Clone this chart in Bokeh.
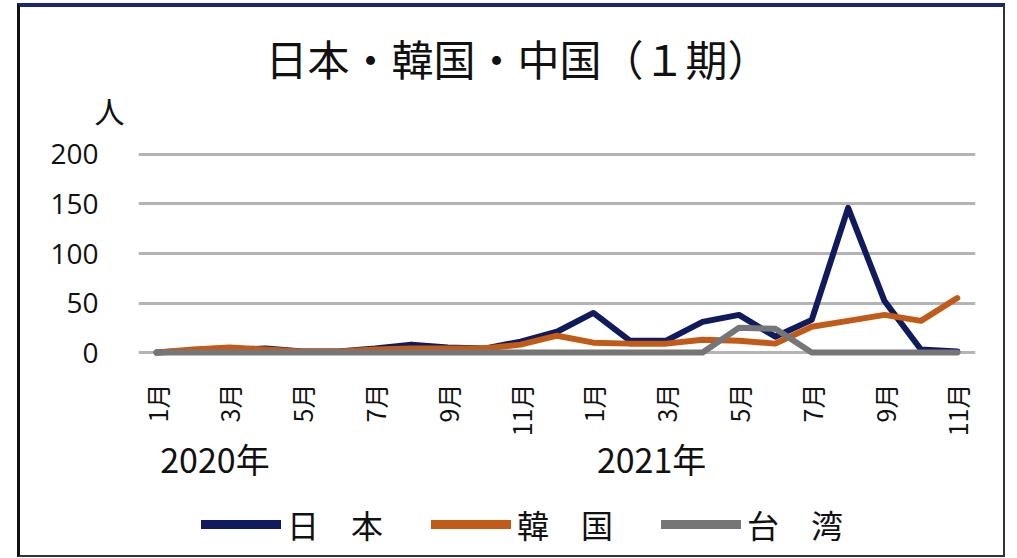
import math
from bokeh.plotting import figure
from bokeh.layouts import column
from bokeh.models import FixedTicker, Legend, LegendItem, LinearAxis, Range1d, Title
from bokeh.embed import file_html
from bokeh.resources import INLINE

# Monthly arrivals, Jan 2020 – Nov 2021
months = ["1月", "2月", "3月", "4月", "5月", "6月", "7月", "8月", "9月", "10月", "11月", "12月",
          "1月", "2月", "3月", "4月", "5月", "6月", "7月", "8月", "9月", "10月", "11月"]
years = ["2020年", "2021年"]
year_start_index = [0, 12]
japan = [0, 2, 3, 4, 1, 1, 4, 8, 5, 4, 11, 21, 40, 12, 12, 31, 38, 16, 33, 146, 52, 3, 1]
korea = [0, 3, 5, 3, 1, 1, 3, 4, 4, 4, 8, 17, 10, 9, 9, 13, 12, 9, 26, 32, 38, 32, 55]
taiwan = [0, 0, 0, 0, 0, 0, 0, 0, 0, 0, 0, 0, 0, 0, 0, 0, 25, 24, 0, 0, 0, 0, 0]
series_names = ["日　本", "韓　国", "台　湾"]
series_colors = ["#0f1b5c", "#c25a18", "#767676"]
title_text = "日本・韓国・中国（１期）"
unit_text = "人"
y_ticks = [0, 50, 100, 150, 200]

CJK = "Noto Sans CJK JP"
TEXT = "#111111"
W = 983
x = list(range(len(months)))

p = figure(width=W, height=490,
           x_range=Range1d(-0.5, len(months) - 0.5), y_range=Range1d(-4, 204),
           output_backend="svg", toolbar_location=None,
           min_border_left=118, min_border_right=28,
           min_border_top=143, min_border_bottom=141)
p.outline_line_color = None
p.background_fill_color = "white"
p.border_fill_color = "white"

# chart title on top, unit label just above the plot area
p.title.text = title_text
p.title.align = "left"
p.title.offset = 127
p.title.standoff = -42
p.title.text_font = CJK
p.title.text_font_size = "42px"
p.title.text_font_style = "normal"
p.title.text_color = TEXT
p.add_layout(Title(text=unit_text, align="left", offset=-44, standoff=38,
                   text_font=CJK, text_font_size="30px", text_font_style="normal",
                   text_color=TEXT), "above")

# month axis
p.xaxis.ticker = FixedTicker(ticks=x[::2])
p.xaxis.major_label_overrides = {i: months[i] for i in x[::2]}
p.xaxis.major_label_orientation = math.pi / 2
p.xaxis.major_label_text_font = CJK
p.xaxis.major_label_text_font_size = "25px"
p.xaxis.major_label_text_color = TEXT
p.xaxis.major_label_standoff = 27

# year axis under the months
year_ticks = [i + 1.6 for i in year_start_index]
year_axis = LinearAxis(ticker=FixedTicker(ticks=year_ticks),
                       major_label_overrides={t: y for t, y in zip(year_ticks, years)},
                       major_label_text_font=CJK, major_label_text_font_size="34px",
                       major_label_text_color=TEXT, major_label_standoff=-6)
p.add_layout(year_axis, "below")

p.yaxis.ticker = FixedTicker(ticks=y_ticks)
p.yaxis.major_label_text_font = "Open Sans"
p.yaxis.major_label_text_font_size = "28px"
p.yaxis.major_label_text_color = TEXT
p.yaxis.major_label_standoff = 40
for ax in (p.xaxis[0], year_axis, p.yaxis[0]):
    ax.axis_line_color = None
    ax.major_tick_line_color = None
    ax.minor_tick_line_color = None
    ax.major_tick_out = 0
    ax.major_tick_in = 0
    ax.minor_tick_out = 0
    ax.minor_tick_in = 0

p.xgrid.grid_line_color = None
p.ygrid.grid_line_color = "#b4b4b4"
p.ygrid.grid_line_width = 3

for vals, color in zip([japan, korea, taiwan], series_colors):
    p.line(x, vals, line_color=color, line_width=6, line_join="round", line_cap="round")

# legend strip under the chart; its key lines lie outside the visible range
q = figure(width=W, height=58, x_range=Range1d(0, W), y_range=Range1d(0, 58),
           x_axis_type=None, y_axis_type=None, output_backend="svg", toolbar_location=None,
           min_border=0)
q.outline_line_color = None
q.grid.visible = False
q.background_fill_color = "white"
q.border_fill_color = "white"
keys = [q.line([-20, -10], [-20, -20], line_color=c, line_width=9, line_cap="round")
        for c in series_colors]
legend = Legend(items=[LegendItem(label=n, renderers=[r]) for n, r in zip(series_names, keys)],
                orientation="horizontal", location=(63, 8),
                label_text_font=CJK, label_text_font_size="32px", label_text_color=TEXT,
                glyph_width=80, glyph_height=30, label_standoff=6, spacing=48,
                padding=2, margin=0, border_line_color=None, background_fill_alpha=0)
q.add_layout(legend, "center")

layout = column(p, q, spacing=0)
layout.styles = {"border-top": "4px solid #1c2670", "border-left": "3px solid #111111",
                 "border-right": "2px solid #333333", "border-bottom": "2px solid #333333",
                 "margin-left": "17px", "margin-top": "3px", "background": "white"}

open("out.html", "w").write(file_html(layout, INLINE))
